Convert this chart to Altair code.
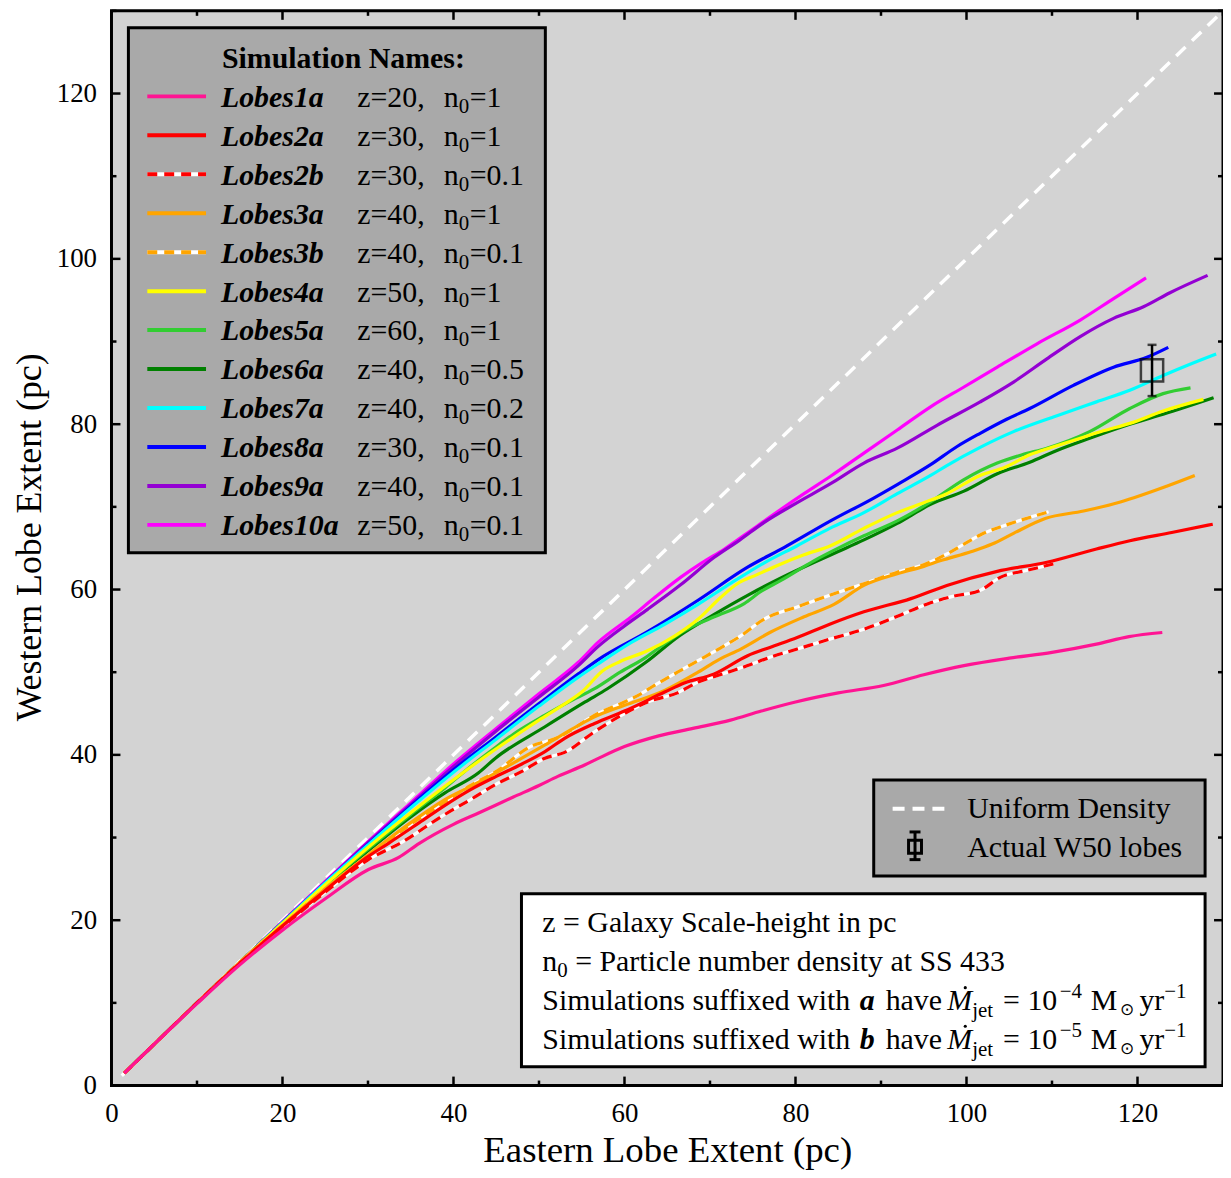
import altair as alt
import pandas as pd

SERIF = "Liberation Serif"

# ---------------- data ----------------
lobes1a_x = [1.5, 5, 10, 15, 20, 25, 30, 33.6, 36, 40, 43, 47, 50, 52.2, 55.4, 57, 60, 64, 68, 72.4, 76, 80, 85, 90.3, 95, 99.7, 105, 110, 115.2, 119, 122.9]
lobes1a_y = [1.5, 5, 9.9, 14.6, 18.8, 22.6, 26.1, 27.6, 29.3, 31.6, 33.0, 34.9, 36.3, 37.4, 38.8, 39.6, 41.0, 42.3, 43.2, 44.2, 45.3, 46.4, 47.5, 48.4, 49.7, 50.8, 51.7, 52.4, 53.4, 54.3, 54.8]

lobes2a_x = [1.5, 5, 10, 15, 20, 25, 30, 32.4, 36, 39, 42, 45, 48, 50.7, 53, 56.5, 60, 64.7, 67, 70.5, 74.4, 77, 80.2, 84, 88, 93.5, 97.7, 103.6, 109.4, 115.2, 119.1, 124, 128.8]
lobes2a_y = [1.5, 5, 10, 14.8, 19.3, 23.6, 27.7, 29.3, 31.8, 33.9, 35.8, 37.4, 38.9, 40.4, 42.0, 43.8, 45.3, 47.6, 48.7, 49.8, 52.0, 53.0, 54.2, 55.8, 57.3, 58.9, 60.5, 62.2, 63.3, 64.9, 65.9, 66.9, 67.9]

lobes2b_x = [1.5, 5, 10, 15, 20, 25, 30, 33.9, 39, 42, 44.9, 48, 50.7, 53, 56.5, 60, 62.7, 66.2, 68.6, 71.5, 74.4, 77, 80.2, 84, 88, 92, 95.8, 98.5, 101.6, 104, 107, 110.2]
lobes2b_y = [1.5, 5, 10, 14.8, 19.2, 23.4, 27.3, 29.4, 32.8, 34.6, 36.4, 38.0, 39.6, 40.3, 42.8, 45.0, 46.4, 47.5, 48.8, 49.8, 50.8, 51.8, 52.8, 54.0, 55.2, 56.8, 58.4, 59.2, 59.9, 61.5, 62.3, 63.1]

lobes3a_x = [1.5, 5, 10, 15, 20, 25, 30, 35, 39, 42, 44.9, 48, 50.7, 53, 56.5, 60, 64.7, 68.6, 71, 73.6, 77, 81, 84.5, 88, 91.9, 95, 97, 100.6, 103, 105.5, 109.2, 113.7, 118, 123.4, 126.7]
lobes3a_y = [1.5, 5, 10, 14.9, 19.4, 23.8, 27.9, 31.8, 34.6, 36.2, 37.8, 39.6, 41.2, 42.6, 44.6, 46.0, 47.8, 50.0, 51.5, 52.8, 54.8, 56.7, 58.2, 60.5, 61.9, 62.8, 63.5, 64.6, 65.5, 66.8, 68.6, 69.5, 70.6, 72.5, 73.8]

lobes3b_x = [1.5, 5, 10, 15, 20, 25, 30, 35, 39, 42, 45, 49, 52, 56.9, 60, 61.6, 63.5, 66.2, 68.6, 71, 73.6, 76.3, 80.2, 84, 88, 91.9, 95, 97.7, 99.7, 101.6, 105.5, 109.6]
lobes3b_y = [1.5, 5, 10, 14.9, 19.4, 23.8, 27.8, 31.6, 34.3, 36.3, 38.0, 41.0, 42.0, 45.0, 46.4, 47.2, 48.4, 50.0, 51.4, 52.8, 54.4, 56.4, 57.9, 59.3, 60.7, 62.1, 63.0, 64.3, 65.5, 66.6, 68.1, 69.4]

lobes4a_x = [1.5, 5, 10, 15, 20, 25, 30, 35, 39, 42.9, 46.8, 50, 52.6, 55, 57.5, 59.5, 62.5, 65.9, 68.6, 71.3, 73.2, 75.5, 78.3, 81, 84.1, 88, 91.9, 95, 97.5, 101.6, 104.5, 107.4, 110, 113.3, 116, 119.1, 123, 127.7]
lobes4a_y = [1.5, 5, 10, 14.9, 19.6, 24.3, 28.8, 33.0, 36.2, 39.2, 42.0, 44.2, 45.9, 47.6, 50.2, 51.3, 52.5, 54.4, 56.4, 59.1, 60.7, 61.8, 63.1, 64.2, 65.3, 67.4, 69.3, 70.5, 71.5, 73.8, 74.8, 76.3, 77.2, 78.3, 79.2, 80.1, 81.6, 83.0]

lobes5a_x = [1.5, 5, 10, 15, 20, 25, 30, 35, 39, 42, 44.9, 47, 50.7, 53.5, 56.5, 59.5, 62.5, 64.5, 66.6, 70.5, 74, 76, 78.3, 82.2, 85, 88, 91.9, 95.8, 99.7, 103.6, 106.5, 109.4, 114.4, 119.1, 123, 126.2]
lobes5a_y = [1.5, 5, 10, 14.9, 19.6, 24.2, 28.6, 32.8, 36.0, 38.6, 40.9, 42.5, 44.8, 46.4, 48.0, 50.0, 51.8, 53.3, 54.8, 56.7, 58.3, 59.8, 61.1, 63.5, 65.0, 66.5, 68.3, 70.6, 73.3, 75.3, 76.3, 77.1, 79.1, 81.9, 83.7, 84.4]

lobes6a_x = [1.5, 5, 10, 15, 20, 25, 30, 35, 39, 42.9, 44.9, 50.7, 55.4, 58, 62.5, 66.4, 70.5, 74.4, 78.3, 82.2, 85, 88, 91.9, 95.8, 99.7, 103.6, 107.4, 110.5, 114.4, 119.1, 123, 128.9]
lobes6a_y = [1.5, 5, 10, 14.9, 19.5, 24.1, 28.4, 32.5, 35.4, 37.8, 39.6, 43.4, 46.4, 48.0, 51.2, 54.4, 57.0, 59.3, 61.4, 63.3, 64.6, 66.0, 68.0, 70.3, 71.9, 74.0, 75.4, 76.8, 78.3, 80.0, 81.2, 83.2]

lobes7a_x = [1.5, 5, 10, 15, 20, 25, 30, 35, 40, 45, 50, 54.6, 56.9, 60.8, 64.7, 68.6, 72.5, 76.3, 80.2, 84, 88, 91.9, 95.8, 97.7, 101.6, 105.5, 110.5, 115.2, 119.1, 123, 126, 129.2]
lobes7a_y = [1.5, 5, 10, 14.9, 19.7, 24.5, 29.1, 33.6, 37.9, 41.9, 45.9, 49.4, 51.0, 53.6, 55.8, 58.2, 60.8, 63.2, 65.3, 67.4, 69.3, 71.6, 73.8, 75.0, 77.2, 79.1, 81.0, 82.7, 84.1, 85.9, 87.2, 88.5]

lobes8a_x = [1.5, 5, 10, 15, 20, 25, 30, 35, 40, 45, 50, 54.6, 56.9, 62.7, 68.6, 74.4, 78.7, 84.1, 89.2, 91.9, 95.8, 98.9, 101.6, 104.7, 107.4, 112.5, 117.2, 121.1, 123.6]
lobes8a_y = [1.5, 5, 10, 14.9, 19.7, 24.5, 29.2, 33.8, 38.2, 42.2, 46.2, 49.8, 51.5, 54.9, 58.7, 62.7, 65.1, 68.3, 71.1, 72.7, 75.1, 77.3, 78.9, 80.6, 81.9, 84.7, 86.9, 88.1, 89.3]

lobes9a_x = [1.5, 5, 10, 15, 20, 25, 30, 35, 40, 45, 50, 54.6, 56.9, 60, 62.7, 66.6, 70.5, 73.5, 76.3, 80, 84.1, 88, 91.9, 96.6, 101.6, 105.5, 109.4, 113.3, 117.2, 120.7, 123.8, 128.2]
lobes9a_y = [1.5, 5, 10, 14.9, 19.8, 24.6, 29.4, 34.0, 38.6, 42.9, 47.0, 50.8, 53.1, 55.6, 57.6, 60.6, 63.9, 66.0, 68.1, 70.4, 72.8, 75.3, 77.1, 79.9, 82.7, 85.1, 87.9, 90.6, 92.8, 94.2, 95.9, 98.0]

lobes10a_x = [1.5, 5, 10, 15, 20, 25, 30, 35, 40, 45, 50, 54.6, 56.9, 60.8, 63.5, 66.6, 69, 71.7, 75, 78.3, 81, 84.1, 88, 91.9, 95.8, 99.7, 103.6, 108.2, 113.3, 117.2, 121]
lobes10a_y = [1.5, 5, 10, 14.9, 19.8, 24.7, 29.5, 34.2, 38.9, 43.2, 47.4, 51.2, 53.6, 56.7, 59.0, 61.5, 63.2, 64.9, 67.3, 69.7, 71.6, 73.7, 76.5, 79.3, 82.1, 84.5, 86.9, 89.7, 92.6, 95.2, 97.7]

uniform_x = [1.2, 130]
uniform_y = [1.2, 130]

w50_x = [121.7]
w50_y = [86.5]
w50_lo = [83.4]
w50_hi = [89.6]

names = ["Lobes1a", "Lobes2a", "Lobes2b", "Lobes3a", "Lobes3b", "Lobes4a",
         "Lobes5a", "Lobes6a", "Lobes7a", "Lobes8a", "Lobes9a", "Lobes10a"]
z_labels = ["z=20,", "z=30,", "z=30,", "z=40,", "z=40,", "z=50,",
            "z=60,", "z=40,", "z=40,", "z=30,", "z=40,", "z=50,"]
n_labels = ["=1", "=1", "=0.1", "=1", "=0.1", "=1",
            "=1", "=0.5", "=0.2", "=0.1", "=0.1", "=0.1"]
colors = ["#ff1493", "#ff0000", "#ff0000", "#ffa500", "#ffa500", "#ffff00",
          "#32cd32", "#008000", "#00ffff", "#0000ff", "#9400d3", "#ff00ff"]
dashed = [False, False, True, False, True, False,
          False, False, False, False, False, False]
xs_all = [lobes1a_x, lobes2a_x, lobes2b_x, lobes3a_x, lobes3b_x, lobes4a_x,
          lobes5a_x, lobes6a_x, lobes7a_x, lobes8a_x, lobes9a_x, lobes10a_x]
ys_all = [lobes1a_y, lobes2a_y, lobes2b_y, lobes3a_y, lobes3b_y, lobes4a_y,
          lobes5a_y, lobes6a_y, lobes7a_y, lobes8a_y, lobes9a_y, lobes10a_y]

x_tick_labels = [0, 20, 40, 60, 80, 100, 120]
y_tick_labels = [0, 20, 40, 60, 80, 100, 120]
major_ticks = [20, 40, 60, 80, 100, 120]
minor_ticks = [10, 30, 50, 70, 90, 110, 130]

# ---------------- layout ----------------
W, H = 1117, 1080
ONE = alt.Data(values=[{"k": 0}])


def px(x):
    return x - 112


def py(y):
    return (y - 4) * H / 1087.0


xscale = alt.Scale(domain=[0, 130], nice=False, zero=False)
yscale = alt.Scale(domain=[0, 130], nice=False, zero=False)
xaxis = alt.Axis(values=x_tick_labels, ticks=False, domain=False, grid=False,
                 labelFont=SERIF, labelFontSize=27, labelPadding=15, labelColor="black",
                 labelFlush=False,
                 title="Eastern Lobe Extent (pc)", titleFont=SERIF, titleFontSize=37,
                 titleFontWeight="normal", titleColor="black", titleY=76,
                 titleBaseline="alphabetic")
yaxis = alt.Axis(values=y_tick_labels, ticks=False, domain=False, grid=False,
                 labelFont=SERIF, labelFontSize=27, labelPadding=15, labelColor="black",
                 title="Western Lobe Extent (pc)", titleFont=SERIF, titleFontSize=36,
                 titleFontWeight="normal", titleColor="black", titleAngle=270,
                 titleX=-71, titleY=py(536), titleAlign="center",
                 titleBaseline="alphabetic")
XE = lambda f: alt.X(f, type="quantitative", scale=xscale, axis=xaxis)
YE = lambda f: alt.Y(f, type="quantitative", scale=yscale, axis=yaxis)

layers = []

# uniform density line
layers.append(
    alt.Chart(pd.DataFrame({"x": uniform_x, "y": uniform_y}))
    .mark_line(color="white", strokeWidth=3.5, strokeDash=[13, 9])
    .encode(x=XE("x"), y=YE("y"))
)

# simulation curves (drawn last-to-first so Lobes1a is on top)
for i in reversed(range(len(names))):
    df = pd.DataFrame({"x": xs_all[i], "y": ys_all[i]})
    if dashed[i]:
        layers.append(alt.Chart(df).mark_line(color="white", strokeWidth=3.2, interpolate="monotone")
                      .encode(x=XE("x"), y=YE("y")))
        layers.append(alt.Chart(df).mark_line(color=colors[i], strokeWidth=3.2, strokeDash=[10, 6],
                                              interpolate="monotone")
                      .encode(x=XE("x"), y=YE("y")))
    else:
        layers.append(alt.Chart(df).mark_line(color=colors[i], strokeWidth=3.2, interpolate="monotone")
                      .encode(x=XE("x"), y=YE("y")))

# W50 measurement
w50 = pd.DataFrame({"x": w50_x, "y": w50_y, "lo": w50_lo, "hi": w50_hi})
layers.append(alt.Chart(w50).mark_rule(color="black", strokeWidth=2.5)
              .encode(x=XE("x"), y=YE("lo"), y2="hi:Q"))
layers.append(alt.Chart(w50).mark_tick(color="black", orient="horizontal", size=9, thickness=2.5)
              .encode(x=XE("x"), y=YE("lo")))
layers.append(alt.Chart(w50).mark_tick(color="black", orient="horizontal", size=9, thickness=2.5)
              .encode(x=XE("x"), y=YE("hi")))
layers.append(alt.Chart(w50).mark_square(size=500, filled=False, stroke="black", strokeWidth=2.5)
              .encode(x=XE("x"), y=YE("y")))

# inward ticks on all four sides
for vals, ln in ((major_ticks, 9), (minor_ticks, 5)):
    tdf = pd.DataFrame({"v": vals})
    layers.append(alt.Chart(tdf).mark_rule(color="black", strokeWidth=2.5)
                  .encode(x=XE("v"), y=alt.value(H), y2=alt.value(H - ln)))
    layers.append(alt.Chart(tdf).mark_rule(color="black", strokeWidth=2.5)
                  .encode(x=XE("v"), y=alt.value(0), y2=alt.value(ln)))
    layers.append(alt.Chart(tdf).mark_rule(color="black", strokeWidth=2.5)
                  .encode(y=YE("v"), x=alt.value(0), x2=alt.value(ln)))
    layers.append(alt.Chart(tdf).mark_rule(color="black", strokeWidth=2.5)
                  .encode(y=YE("v"), x=alt.value(W), x2=alt.value(W - ln)))


def box(x0, x1, y0, y1, fill):
    return (alt.Chart(ONE).mark_rect(fill=fill, stroke="black", strokeWidth=3)
            .encode(x=alt.value(px(x0)), x2=alt.value(px(x1)),
                    y=alt.value(py(y0)), y2=alt.value(py(y1))))


def txt(t, x, y, size=30, weight="normal", style="normal", dy=0):
    return (alt.Chart(ONE)
            .mark_text(text=t, font=SERIF, fontSize=size, fontWeight=weight,
                       fontStyle=style, align="left", baseline="alphabetic", color="black")
            .encode(x=alt.value(px(x)), y=alt.value(py(y) + dy)))


def hline(x0, x1, y, color, width=4, dash=None):
    kw = dict(color=color, strokeWidth=width)
    if dash:
        kw["strokeDash"] = dash
    return (alt.Chart(ONE).mark_rule(**kw)
            .encode(x=alt.value(px(x0)), x2=alt.value(px(x1)), y=alt.value(py(y))))


def vline(x, y0, y1, width=3):
    return (alt.Chart(ONE).mark_rule(color="black", strokeWidth=width)
            .encode(x=alt.value(px(x)), y=alt.value(py(y0)), y2=alt.value(py(y1))))


# --- simulation names legend ---
layers.append(box(129, 548, 21, 552, "#a9a9a9"))
layers.append(txt("Simulation Names:", 223, 61.5, weight="bold"))
for i, nm in enumerate(names):
    b = 101 + 39.4 * i
    if dashed[i]:
        layers.append(hline(148, 207, b - 10.5, "white"))
        layers.append(hline(148, 207, b - 10.5, colors[i], dash=[10, 7]))
    else:
        layers.append(hline(148, 207, b - 10.5, colors[i]))
    layers.append(txt(nm, 222, b, weight="bold", style="italic"))
    layers.append(txt(z_labels[i], 359, b))
    layers.append(txt("n", 446, b))
    layers.append(txt("0", 461, b + 6, size=21))
    layers.append(txt(n_labels[i], 472, b))

# --- symbol legend ---
layers.append(box(878, 1211, 782, 879, "#a9a9a9"))
layers.append(hline(897, 955, 811, "white", width=4, dash=[12, 8]))
layers.append(txt("Uniform Density", 972, 820))
layers.append(vline(919.5, 834, 863))
layers.append(hline(914, 925, 834.5, "black", width=3))
layers.append(hline(914, 925, 862.5, "black", width=3))
layers.append(alt.Chart(ONE).mark_rect(fill="#a9a9a9", fillOpacity=0, stroke="black", strokeWidth=3)
              .encode(x=alt.value(px(913)), x2=alt.value(px(926)),
                      y=alt.value(py(843)), y2=alt.value(py(856))))
layers.append(txt("Actual W50 lobes", 972, 860))

# --- notes box ---
layers.append(box(524, 1211, 897, 1072, "white"))
layers.append(txt("z = Galaxy Scale-height in pc", 545, 936))
layers.append(txt("n", 545, 975))
layers.append(txt("0", 560, 975, size=21, dy=6))
layers.append(txt("= Particle number density at SS 433", 578, 975))
for b, letter, expo in ((1015, "a", "\u22124"), (1054, "b", "\u22125")):
    layers.append(txt("Simulations suffixed with", 545, b))
    layers.append(txt(letter, 864, b, weight="bold", style="italic"))
    layers.append(txt("have", 890, b))
    layers.append(txt("M", 952, b, style="italic"))
    layers.append(alt.Chart(ONE).mark_circle(color="black", size=10, opacity=1)
                  .encode(x=alt.value(px(970)), y=alt.value(py(b - 23))))
    layers.append(txt("jet", 977, b, size=21, dy=7))
    layers.append(txt("= 10", 1008, b))
    layers.append(txt(expo, 1065, b, size=21, dy=-12))
    layers.append(txt("M", 1096, b))
    layers.append(txt("\u2299", 1125, b, size=17, dy=5))
    layers.append(txt("yr", 1145, b))
    layers.append(txt("\u22121", 1170, b, size=21, dy=-12))

chart = (
    alt.layer(*layers)
    .properties(width=W, height=H,
                autosize=alt.AutoSizeParams(type="none"),
                padding={"left": 104, "top": 0, "right": 0, "bottom": 82})
    .configure_view(stroke="black", strokeWidth=3, fill="#d3d3d3")
)

chart.save("out.html", embed_options={"renderer": "svg", "actions": False})
